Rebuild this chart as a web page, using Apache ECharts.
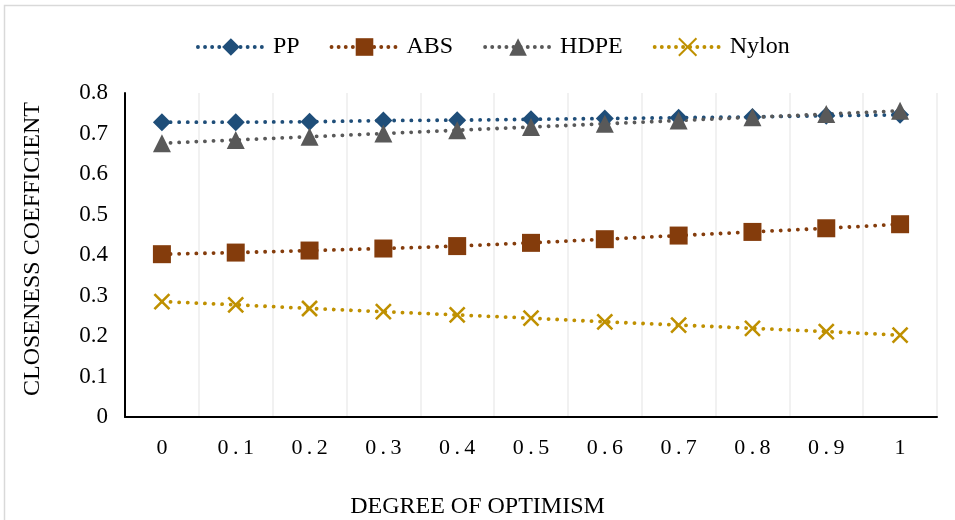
<!DOCTYPE html>
<html>
<head>
<meta charset="utf-8">
<script src="https://cdn.jsdelivr.net/npm/echarts@6/dist/echarts.min.js"></script>
<style>
	html, body { margin: 0; padding: 0; background: #fff; }
	#chartLine { width: 955px; height: 520px; }
</style>
</head>
<body>
<div id="chartLine"></div>
<script>
	// 数据
	var categories = ['0', '0.1', '0.2', '0.3', '0.4', '0.5', '0.6', '0.7', '0.8', '0.9', '1'];
	var ppData    = [0.728, 0.728, 0.729, 0.732, 0.733, 0.735, 0.737, 0.739, 0.741, 0.744, 0.746];
	var absData   = [0.402, 0.406, 0.411, 0.416, 0.422, 0.430, 0.439, 0.448, 0.457, 0.466, 0.476];
	var hdpeData  = [0.676, 0.684, 0.692, 0.700, 0.708, 0.716, 0.724, 0.732, 0.740, 0.748, 0.756];
	var nylonData = [0.285, 0.277, 0.268, 0.260, 0.252, 0.244, 0.235, 0.227, 0.219, 0.211, 0.202];
	var yTicks    = [0, 0.1, 0.2, 0.3, 0.4, 0.5, 0.6, 0.7, 0.8];

	var fontFamily = '"Liberation Serif", "Times New Roman", serif';
	var dotLine = [0.1, 8.5];

	function makeSeries(name, data, color, symbol, size, border){
		return {
			name: name,
			type: 'line',
			data: data,
			symbol: symbol,
			symbolSize: size,
			itemStyle: { color: color, borderColor: color, borderWidth: border || 0 },
			lineStyle: { color: color, width: 3.8, type: dotLine, cap: 'round' },
			animation: false
		};
	}

	var chartLine = echarts.init(document.getElementById('chartLine'));
	chartLine.setOption({
		backgroundColor: '#fff',
		textStyle: { fontFamily: fontFamily },
		legend: {
			top: 30,
			left: 191,
			itemWidth: 66,
			itemHeight: 22,
			itemGap: 30,
			lineStyle: { width: 3.8, type: [0.1, 7], cap: 'round' },
			textStyle: { fontFamily: fontFamily, fontSize: 24, color: '#000', padding: [0, 0, 0, 4] },
			data: ['PP', 'ABS', 'HDPE', 'Nylon']
		},
		title: {
			text: 'DEGREE OF OPTIMISM',
			left: 'center',
			top: 490,
			textStyle: { fontFamily: fontFamily, fontSize: 24, fontWeight: 'normal', color: '#000' }
		},
		grid: { left: 125, right: 18, top: 93, bottom: 103 },
		xAxis: {
			type: 'category',
			data: categories,
			boundaryGap: true,
			axisLine: { lineStyle: { color: '#000', width: 2 } },
			axisTick: { show: false },
			splitLine: { show: true, lineStyle: { color: '#ececec', width: 1.5 } },
			axisLabel: {
				margin: 20,
				fontFamily: fontFamily,
				fontSize: 22,
				color: '#000',
				formatter: function(v){ return v.split('').join('\u2009'); }
			}
		},
		yAxis: {
			type: 'value',
			min: 0,
			max: 0.8,
			interval: 0.1,
			name: 'CLOSENESS COEFFICIENT',
			nameLocation: 'middle',
			nameGap: 80,
			nameTextStyle: { fontFamily: fontFamily, fontSize: 24, color: '#000', padding: [0, 0, 0, 12] },
			axisLine: { show: true, lineStyle: { color: '#000', width: 2 } },
			axisTick: { show: false },
			splitLine: { show: false },
			axisLabel: {
				margin: 17,
				fontFamily: fontFamily,
				fontSize: 23,
				color: '#000',
				formatter: function(v){
					var t = yTicks.filter(function(x){ return Math.abs(x - v) < 1e-6; });
					return t.length ? String(t[0]) : '';
				}
			}
		},
		graphic: [{
			type: 'rect',
			shape: { x: 4.5, y: 5.5, width: 1000, height: 600 },
			style: { fill: 'none', stroke: '#d9d9d9', lineWidth: 1.5 },
			silent: true
		}],
		series: [
			makeSeries('PP', ppData, '#1F4E79', 'diamond', 18),
			makeSeries('ABS', absData, '#843C0C', 'rect', 18),
			makeSeries('HDPE', hdpeData, '#595959', 'triangle', 18),
			makeSeries('Nylon', nylonData, '#BF9000', 'path://M0,0 L10,10 M10,0 L0,10', 15, 2.6)
		]
	});
</script>
</body>
</html>
